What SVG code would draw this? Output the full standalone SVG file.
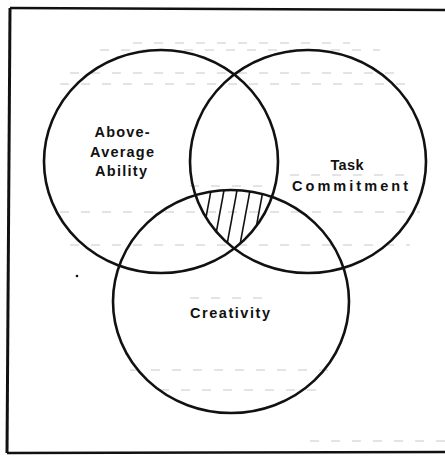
<svg xmlns="http://www.w3.org/2000/svg" width="445" height="458" viewBox="0 0 445 458">
<style>
.c{fill:none;stroke:#111;stroke-width:2.6}
.t{font-family:"Liberation Sans",Arial,sans-serif;font-weight:bold;font-size:14.5px;fill:#111;text-anchor:middle}
.h{stroke:#111;stroke-width:1.6}
.d{stroke:#c8c8c8;stroke-width:1;stroke-dasharray:9 12}
</style>
<defs>
<clipPath id="cl"><ellipse cx="161" cy="161.5" rx="117" ry="111.5"/></clipPath>
<clipPath id="cr"><ellipse cx="308" cy="161.5" rx="118" ry="111.5"/></clipPath>
<clipPath id="cb"><ellipse cx="231" cy="301.5" rx="118" ry="111.5"/></clipPath>
</defs>
<rect width="445" height="458" fill="#fff"/>
<g id="paper-lines">
<line class="d" x1="133" y1="43" x2="350" y2="43"/>
<line class="d" x1="100" y1="50" x2="380" y2="50"/>
<line class="d" x1="70" y1="73" x2="400" y2="73"/>
<line class="d" x1="60" y1="84" x2="410" y2="84"/>
<line class="d" x1="190" y1="186" x2="275" y2="186"/>
<line class="d" x1="290" y1="175" x2="415" y2="175"/>
<line class="d" x1="60" y1="212" x2="420" y2="212"/>
<line class="d" x1="70" y1="245" x2="410" y2="245"/>
<line class="d" x1="190" y1="298" x2="270" y2="298"/>
<line class="d" x1="130" y1="370" x2="340" y2="370"/>
<line class="d" x1="160" y1="390" x2="320" y2="390"/>
<line class="d" x1="310" y1="441" x2="445" y2="441"/>
</g>
<g id="frame">
<path d="M10 8 L445 10" fill="none" stroke="#111" stroke-width="2.6"/>
<path d="M10 8 L7 453" fill="none" stroke="#111" stroke-width="3"/>
<path d="M7 453 L445 452" fill="none" stroke="#111" stroke-width="2.6"/>
<circle cx="77" cy="276" r="1.3" fill="#111"/>
</g>
<g id="hatch" clip-path="url(#cb)">
<g clip-path="url(#cl)">
<g clip-path="url(#cr)">
<line class="h" x1="212" y1="185" x2="200" y2="250"/>
<line class="h" x1="225" y1="185" x2="213" y2="250"/>
<line class="h" x1="238" y1="185" x2="226" y2="250"/>
<line class="h" x1="251" y1="185" x2="239" y2="250"/>
<line class="h" x1="264" y1="185" x2="252" y2="250"/>
</g>
</g>
</g>
<g id="above-average-ability">
<ellipse class="c" cx="161" cy="161.5" rx="117" ry="111.5"/>
<text class="t" x="122" y="137" textLength="55" lengthAdjust="spacing">Above-</text>
<text class="t" x="122" y="157" textLength="64" lengthAdjust="spacing">Average</text>
<text class="t" x="121" y="176" textLength="52" lengthAdjust="spacing">Ability</text>
</g>
<g id="task-commitment">
<ellipse class="c" cx="308" cy="161.5" rx="118" ry="111.5"/>
<text class="t" x="347" y="170" textLength="33" lengthAdjust="spacing">Task</text>
<text class="t" x="350" y="191" textLength="116" lengthAdjust="spacing">Commitment</text>
</g>
<g id="creativity">
<ellipse class="c" cx="231" cy="301.5" rx="118" ry="111.5"/>
<text class="t" x="230" y="318" textLength="80" lengthAdjust="spacing">Creativity</text>
</g>
</svg>
